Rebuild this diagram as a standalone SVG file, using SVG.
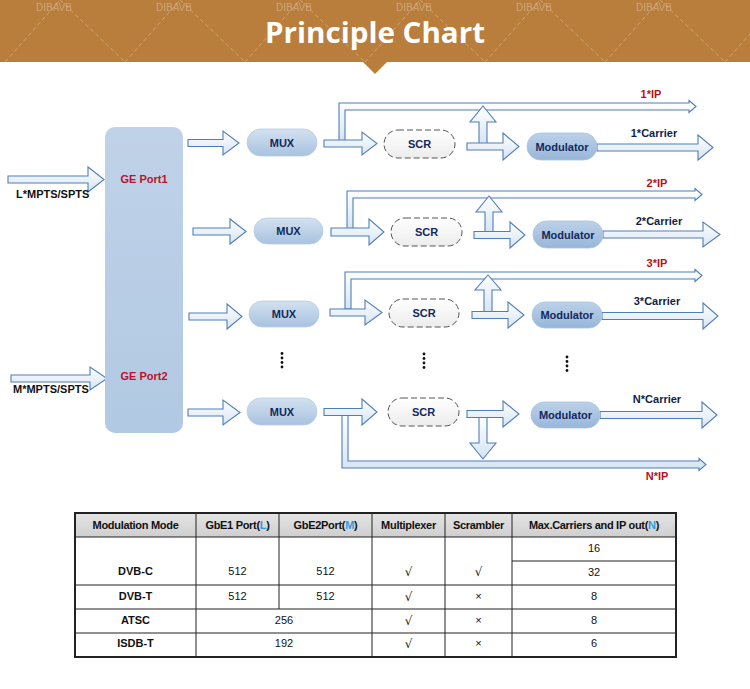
<svg xmlns="http://www.w3.org/2000/svg" width="750" height="689" viewBox="0 0 750 689">
<defs>
<linearGradient id="ag" x1="0" y1="0" x2="0" y2="1"><stop offset="0" stop-color="#ffffff"/><stop offset="1" stop-color="#d6e4f3"/></linearGradient>
<linearGradient id="pg" x1="0" y1="0" x2="0" y2="1"><stop offset="0" stop-color="#d3e1f0"/><stop offset="1" stop-color="#a8c2df"/></linearGradient>
<linearGradient id="mg" x1="0" y1="0" x2="0" y2="1"><stop offset="0" stop-color="#bcd1e9"/><stop offset="1" stop-color="#98b6d9"/></linearGradient>
<linearGradient id="sg" x1="0" y1="0" x2="0" y2="1"><stop offset="0" stop-color="#ffffff"/><stop offset="1" stop-color="#ececec"/></linearGradient>
<linearGradient id="gg" x1="0" y1="0" x2="0" y2="1"><stop offset="0" stop-color="#bfd2e8"/><stop offset="1" stop-color="#b2c9e3"/></linearGradient>
<linearGradient id="hg" x1="0" y1="0" x2="0" y2="1"><stop offset="0" stop-color="#e4e4e4"/><stop offset="1" stop-color="#cfcfcf"/></linearGradient>
</defs>
<style>
.ar{fill:url(#ag);stroke:#4f7fb8;stroke-width:1.1;stroke-linejoin:miter}
.mux{fill:url(#pg);stroke:#b7cce4;stroke-width:0.8}
.mod{fill:url(#mg);stroke:#a9c3e0;stroke-width:0.8}
.scr{fill:url(#sg);stroke:#555;stroke-width:1;stroke-dasharray:6,3}
.nt{font-family:"Liberation Sans",Arial,sans-serif;font-weight:bold;font-size:11px;fill:#13295c;text-anchor:middle}
.lb{font-family:"Liberation Sans",Arial,sans-serif;font-weight:bold;font-size:11px;fill:#0f1f4a;text-anchor:middle}
.ip{font-family:"Liberation Sans",Arial,sans-serif;font-weight:bold;font-size:11px;fill:#b8121b;text-anchor:middle}
.in{font-family:"Liberation Sans",Arial,sans-serif;font-weight:bold;font-size:11px;fill:#111}
.ge{font-family:"Liberation Sans",Arial,sans-serif;font-weight:bold;font-size:11px;fill:#c0102a;text-anchor:middle}
.th{font-family:"Liberation Sans",Arial,sans-serif;font-weight:bold;font-size:11px;fill:#111;text-anchor:middle;letter-spacing:-0.3px}
.td{font-family:"Liberation Sans",Arial,sans-serif;font-size:11px;fill:#111;text-anchor:middle}
.ck{font-family:"DejaVu Sans",sans-serif;font-size:12px;fill:#111;text-anchor:middle}
.tb{font-family:"Liberation Sans",Arial,sans-serif;font-weight:bold;font-size:11px;fill:#111;text-anchor:middle}
.bl{fill:#2f9be0}
.tl{stroke:#222;stroke-width:1;fill:none}
.dot{fill:#111}
.wm{font-family:"Liberation Sans",Arial,sans-serif;font-size:10px;fill:#ffffff;fill-opacity:0.3}
.dz{stroke:#ffffff;stroke-opacity:0.3;stroke-width:1;stroke-dasharray:4,3;fill:none}
</style>
<rect width="750" height="689" fill="#ffffff"/>
<g id="banner">
<rect x="0" y="0" width="750" height="62" fill="#b97e3c"/>
<path d="M363,62 L375,74 L387,62 Z" fill="#b97e3c"/>
<path class="dz" d="M5,62 L60,0 M60,0 L125,62 M125,62 L180,0 M180,0 L245,62 M245,62 L300,0 M300,0 L365,62 M365,62 L420,0 M420,0 L485,62 M485,62 L540,0 M540,0 L605,62 M605,62 L660,0 M660,0 L725,62 M725,62 L750,34"/>
<text class="wm" x="36" y="11">DIBAVB</text>
<text class="wm" x="156" y="11">DIBAVB</text>
<text class="wm" x="276" y="11">DIBAVB</text>
<text class="wm" x="396" y="11">DIBAVB</text>
<text class="wm" x="516" y="11">DIBAVB</text>
<text class="wm" x="636" y="11">DIBAVB</text>
<text x="375" y="43" text-anchor="middle" textLength="220" lengthAdjust="spacingAndGlyphs" font-family="'Open Sans','Liberation Sans',sans-serif" font-weight="bold" font-size="28" fill="#ffffff">Principle Chart</text>
</g>
<g id="connectors">
<path class="ar" d="M8,176 H88 V167 L104,179.5 L88,192 V183 H8 Z"/>
<path class="ar" d="M11,375 H90 V367 L107,378.5 L90,390 V382 H11 Z"/>
<path class="ar" d="M188,139.5 H223 V131 L239,143 L223,155 V146.5 H188 Z"/>
<path class="ar" d="M193,228 H230 V219 L246,231.5 L230,244 V235 H193 Z"/>
<path class="ar" d="M189,313 H227 V304 L242,316.5 L227,329 V320 H189 Z"/>
<path class="ar" d="M188,409 H223 V400 L240,412.5 L223,425 V416 H188 Z"/>
<path class="ar" d="M339,141 V103 H689 V100.5 L696,106.5 L689,112.5 V110 H345 V141 Z"/>
<path class="ar" d="M324,140 H362 V132 L377,143.5 L362,155 V147 H324 Z"/>
<path class="ar" d="M479,144 V122 H470 L483,106 L496,122 H487 V144 Z"/>
<path class="ar" d="M467,143 H503 V133 L519,146.5 L503,160 V150 H467 Z"/>
<path class="ar" d="M597,144 H698 V135 L713,147.5 L698,160 V151 H597 Z"/>
<path class="ar" d="M347,229 V191 H695 V188.5 L702,194.5 L695,200.5 V198 H353 V229 Z"/>
<path class="ar" d="M331,228 H369 V219 L384,232 L369,245 V236 H331 Z"/>
<path class="ar" d="M485,232 V212 H476 L489,196 L502,212 H493 V232 Z"/>
<path class="ar" d="M474,231.5 H510 V222 L525,235 L510,248 V238.5 H474 Z"/>
<path class="ar" d="M603,231 H703 V222 L720,234.5 L703,247 V238 H603 Z"/>
<path class="ar" d="M345,309 V272 H695 V269.5 L702,275.5 L695,281.5 V279 H351 V309 Z"/>
<path class="ar" d="M330,309 H365 V300 L382,312.5 L365,325 V316 H330 Z"/>
<path class="ar" d="M484,312 V290 H475 L488,275 L501,290 H492 V312 Z"/>
<path class="ar" d="M472,311.5 H508 V302 L524,315 L508,328 V318.5 H472 Z"/>
<path class="ar" d="M602,312.5 H703 V303 L718,316 L703,329 V319.5 H602 Z"/>
<path class="ar" d="M342,415 V468 H699 V470.5 L706,464.5 L699,458.5 V461 H348 V415 Z"/>
<path class="ar" d="M324,408.5 H362 V399 L377,412 L362,425 V415.5 H324 Z"/>
<path class="ar" d="M479,417 V443 H470 L483,459 L496,443 H487 V417 Z"/>
<path class="ar" d="M467,410.5 H503 V401 L519,414 L503,427 V417.5 H467 Z"/>
<path class="ar" d="M600,411.5 H702 V402 L717,415 L702,428 V418.5 H600 Z"/>
</g>
<g id="labels">
<text class="in" x="16" y="198">L*MPTS/SPTS</text>
<text class="in" x="13" y="393">M*MPTS/SPTS</text>
<text class="ip" x="651" y="98">1*IP</text>
<text class="lb" x="654" y="137">1*Carrier</text>
<text class="ip" x="657" y="187">2*IP</text>
<text class="lb" x="659" y="225">2*Carrier</text>
<text class="ip" x="657" y="267">3*IP</text>
<text class="lb" x="657" y="305">3*Carrier</text>
<text class="lb" x="657" y="403">N*Carrier</text>
<text class="ip" x="657" y="480">N*IP</text>
</g>
<g id="ge-ports">
<rect x="105" y="127" width="78" height="306" rx="10" fill="url(#gg)"/>
<text class="ge" x="144" y="183">GE Port1</text>
<text class="ge" x="144" y="380">GE Port2</text>
</g>
<g id="mux1"><rect class="mux" x="247" y="129" width="70" height="27" rx="13.5"/><text class="nt" x="282" y="147">MUX</text></g>
<g id="mux2"><rect class="mux" x="254" y="218" width="69" height="26" rx="13"/><text class="nt" x="288.5" y="235">MUX</text></g>
<g id="mux3"><rect class="mux" x="249" y="301" width="70" height="26" rx="13"/><text class="nt" x="284" y="318">MUX</text></g>
<g id="muxN"><rect class="mux" x="247" y="398" width="70" height="27" rx="13.5"/><text class="nt" x="282" y="415.5">MUX</text></g>
<g id="scr1"><rect class="scr" x="384" y="130" width="71" height="28" rx="14"/><text class="nt" x="419.5" y="148">SCR</text></g>
<g id="scr2"><rect class="scr" x="391" y="218" width="71" height="28" rx="14"/><text class="nt" x="426.5" y="236">SCR</text></g>
<g id="scr3"><rect class="scr" x="389" y="299" width="70" height="28" rx="14"/><text class="nt" x="424" y="317">SCR</text></g>
<g id="scrN"><rect class="scr" x="388" y="398" width="71" height="28" rx="14"/><text class="nt" x="423.5" y="416">SCR</text></g>
<g id="mod1"><rect class="mod" x="527" y="133" width="70" height="27" rx="13.5"/><text class="nt" x="562" y="150.5">Modulator</text></g>
<g id="mod2"><rect class="mod" x="533" y="221" width="70" height="27" rx="13.5"/><text class="nt" x="568" y="238.5">Modulator</text></g>
<g id="mod3"><rect class="mod" x="532" y="302" width="70" height="26" rx="13"/><text class="nt" x="567" y="319">Modulator</text></g>
<g id="modN"><rect class="mod" x="531" y="402" width="69" height="26" rx="13"/><text class="nt" x="565.5" y="419">Modulator</text></g>
<g id="ellipsis">
<circle class="dot" cx="282" cy="353.5" r="1.4"/><circle class="dot" cx="282" cy="358" r="1.4"/><circle class="dot" cx="282" cy="362.5" r="1.4"/><circle class="dot" cx="282" cy="367" r="1.4"/>
<circle class="dot" cx="424" cy="354" r="1.4"/><circle class="dot" cx="424" cy="358.5" r="1.4"/><circle class="dot" cx="424" cy="363" r="1.4"/><circle class="dot" cx="424" cy="367.5" r="1.4"/>
<circle class="dot" cx="567" cy="357" r="1.4"/><circle class="dot" cx="567" cy="361.5" r="1.4"/><circle class="dot" cx="567" cy="366" r="1.4"/><circle class="dot" cx="567" cy="370.5" r="1.4"/>
</g>
<g id="table">
<rect x="75" y="513" width="601" height="24" fill="url(#hg)"/>
<path class="tl" d="M75,537 H676 M75,585 H676 M75,609 H676 M75,633 H676 M512,561 H676 M196,513 V657 M279,513 V609 M372,513 V657 M445,513 V657 M512,513 V657"/>
<rect x="75" y="513" width="601" height="144" fill="none" stroke="#222" stroke-width="2"/>
<text class="th" x="135.5" y="529">Modulation Mode</text>
<text class="th" x="237.5" y="529">GbE1 Port(<tspan class="bl">L</tspan>)</text>
<text class="th" x="325.5" y="529">GbE2Port(<tspan class="bl">M</tspan>)</text>
<text class="th" x="408.5" y="529">Multiplexer</text>
<text class="th" x="478.5" y="529">Scrambler</text>
<text class="th" x="594" y="529">Max.Carriers and IP out(<tspan class="bl">N</tspan>)</text>
<text class="tb" x="135.5" y="575">DVB-C</text>
<text class="td" x="237.5" y="575">512</text>
<text class="td" x="325.5" y="575">512</text>
<text class="ck" x="408.5" y="576">√</text>
<text class="ck" x="478.5" y="576">√</text>
<text class="td" x="594" y="552">16</text>
<text class="td" x="594" y="576">32</text>
<text class="tb" x="135.5" y="600">DVB-T</text>
<text class="td" x="237.5" y="600">512</text>
<text class="td" x="325.5" y="600">512</text>
<text class="ck" x="408.5" y="601">√</text>
<text class="td" x="478.5" y="600">×</text>
<text class="td" x="594" y="600">8</text>
<text class="tb" x="135.5" y="624">ATSC</text>
<text class="td" x="284" y="624">256</text>
<text class="ck" x="408.5" y="625">√</text>
<text class="td" x="478.5" y="624">×</text>
<text class="td" x="594" y="624">8</text>
<text class="tb" x="135.5" y="647">ISDB-T</text>
<text class="td" x="284" y="647">192</text>
<text class="ck" x="408.5" y="648">√</text>
<text class="td" x="478.5" y="647">×</text>
<text class="td" x="594" y="647">6</text>
</g>
</svg>
